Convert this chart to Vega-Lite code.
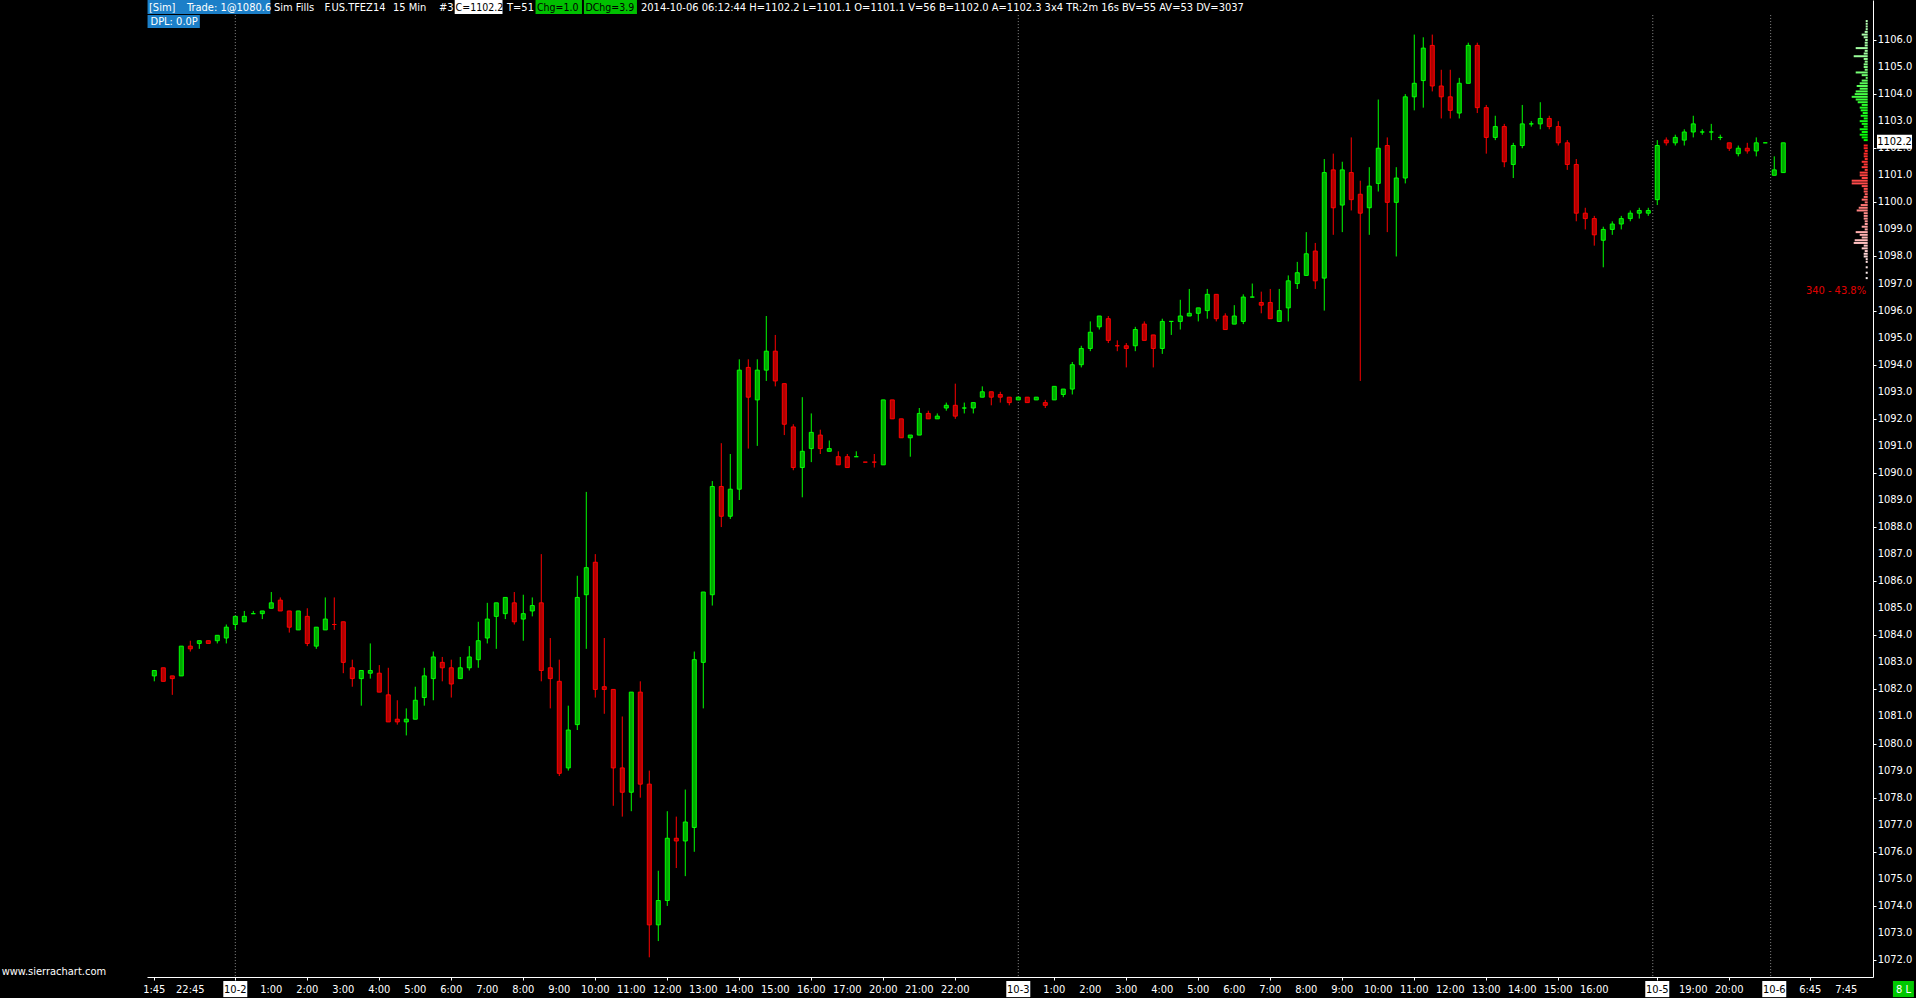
{
"$schema": "https://vega.github.io/schema/vega-lite/v6.json",
"width": 1726, "height": 977,
"autosize": "none",
"padding": {"left": 147, "top": 0, "right": 43, "bottom": 21},
"background": "#000000",
"config": {"view": {"stroke": null}, "font": "DejaVu Sans Condensed", "scale": {"continuousPadding": 0}},
"datasets": {
"bars": [
{"i":0,"o":1082.5,"h":1082.7,"l":1082.3,"c":1082.7},{"i":1,"o":1082.8,"h":1082.8,"l":1082.3,"c":1082.3},{"i":2,"o":1082.5,"h":1082.5,"l":1081.8,"c":1082.4},{"i":3,"o":1082.5,"h":1083.6,"l":1082.5,"c":1083.6},{"i":4,"o":1083.6,"h":1083.8,"l":1083.4,"c":1083.5},{"i":5,"o":1083.7,"h":1083.8,"l":1083.5,"c":1083.8},{"i":6,"o":1083.8,"h":1083.8,"l":1083.7,"c":1083.7},{"i":7,"o":1083.8,"h":1084.0,"l":1083.7,"c":1084.0},{"i":8,"o":1083.9,"h":1084.4,"l":1083.7,"c":1084.3},{"i":9,"o":1084.4,"h":1084.7,"l":1084.2,"c":1084.7},
{"i":10,"o":1084.5,"h":1084.9,"l":1084.5,"c":1084.7},{"i":11,"o":1084.8,"h":1084.9,"l":1084.8,"c":1084.8},{"i":12,"o":1084.8,"h":1084.9,"l":1084.6,"c":1084.9},{"i":13,"o":1085.0,"h":1085.6,"l":1085.0,"c":1085.2},{"i":14,"o":1085.3,"h":1085.4,"l":1084.9,"c":1084.9},{"i":15,"o":1084.9,"h":1084.9,"l":1084.1,"c":1084.3},{"i":16,"o":1084.2,"h":1084.9,"l":1084.2,"c":1084.9},{"i":17,"o":1084.7,"h":1085.0,"l":1083.6,"c":1083.7},{"i":18,"o":1083.6,"h":1084.3,"l":1083.5,"c":1084.3},{"i":19,"o":1084.2,"h":1085.4,"l":1084.2,"c":1084.6},
{"i":20,"o":1084.4,"h":1085.4,"l":1084.2,"c":1084.4,"dn":true},{"i":21,"o":1084.5,"h":1084.5,"l":1082.6,"c":1083.0},{"i":22,"o":1082.8,"h":1083.1,"l":1082.1,"c":1082.4},{"i":23,"o":1082.4,"h":1082.7,"l":1081.4,"c":1082.7},{"i":24,"o":1082.6,"h":1083.7,"l":1082.4,"c":1082.7},{"i":25,"o":1082.6,"h":1082.9,"l":1081.9,"c":1081.9},{"i":26,"o":1081.8,"h":1082.8,"l":1080.8,"c":1080.8},{"i":27,"o":1080.9,"h":1081.6,"l":1080.7,"c":1080.8},{"i":28,"o":1080.8,"h":1081.3,"l":1080.3,"c":1080.9},{"i":29,"o":1080.9,"h":1082.1,"l":1080.9,"c":1081.6},
{"i":30,"o":1081.7,"h":1082.8,"l":1081.4,"c":1082.5},{"i":31,"o":1082.4,"h":1083.4,"l":1081.6,"c":1083.2},{"i":32,"o":1083.0,"h":1083.2,"l":1082.3,"c":1082.8},{"i":33,"o":1082.8,"h":1083.1,"l":1081.7,"c":1082.2},{"i":34,"o":1082.4,"h":1083.2,"l":1082.4,"c":1082.8},{"i":35,"o":1082.8,"h":1083.6,"l":1082.7,"c":1083.2},{"i":36,"o":1083.1,"h":1084.5,"l":1082.8,"c":1083.8},{"i":37,"o":1083.9,"h":1085.2,"l":1083.7,"c":1084.6},{"i":38,"o":1084.7,"h":1085.2,"l":1083.5,"c":1085.2},{"i":39,"o":1084.8,"h":1085.4,"l":1084.6,"c":1085.4},
{"i":40,"o":1085.2,"h":1085.6,"l":1084.4,"c":1084.5},{"i":41,"o":1084.6,"h":1085.5,"l":1083.8,"c":1084.8},{"i":42,"o":1084.9,"h":1085.4,"l":1084.7,"c":1085.1},{"i":43,"o":1085.2,"h":1087.0,"l":1082.3,"c":1082.7},{"i":44,"o":1082.8,"h":1083.9,"l":1081.3,"c":1082.4},{"i":45,"o":1082.3,"h":1083.1,"l":1078.8,"c":1078.9},{"i":46,"o":1079.1,"h":1081.4,"l":1079.0,"c":1080.5},{"i":47,"o":1080.7,"h":1086.2,"l":1080.5,"c":1085.4},{"i":48,"o":1085.5,"h":1089.3,"l":1083.5,"c":1086.5},{"i":49,"o":1086.7,"h":1087.0,"l":1081.7,"c":1082.0},
{"i":50,"o":1082.1,"h":1083.9,"l":1081.1,"c":1082.0},{"i":51,"o":1082.0,"h":1082.0,"l":1077.7,"c":1079.1},{"i":52,"o":1079.1,"h":1081.0,"l":1077.3,"c":1078.2},{"i":53,"o":1078.2,"h":1081.9,"l":1077.5,"c":1081.9},{"i":54,"o":1081.9,"h":1082.3,"l":1078.0,"c":1078.5},{"i":55,"o":1078.5,"h":1079.0,"l":1072.1,"c":1073.3},{"i":56,"o":1073.3,"h":1075.3,"l":1072.7,"c":1074.2},{"i":57,"o":1074.2,"h":1077.5,"l":1074.0,"c":1076.5},{"i":58,"o":1076.5,"h":1077.3,"l":1075.4,"c":1076.4},{"i":59,"o":1076.4,"h":1078.3,"l":1075.1,"c":1077.1},
{"i":60,"o":1076.9,"h":1083.4,"l":1076.0,"c":1083.1},{"i":61,"o":1083.0,"h":1085.6,"l":1081.3,"c":1085.6},{"i":62,"o":1085.5,"h":1089.7,"l":1085.1,"c":1089.5},{"i":63,"o":1089.5,"h":1091.1,"l":1088.0,"c":1088.4},{"i":64,"o":1088.4,"h":1090.7,"l":1088.3,"c":1089.4},{"i":65,"o":1089.4,"h":1094.2,"l":1089.0,"c":1093.8},{"i":66,"o":1093.9,"h":1094.2,"l":1090.9,"c":1092.8},{"i":67,"o":1092.7,"h":1094.2,"l":1091.0,"c":1093.8},{"i":68,"o":1093.8,"h":1095.8,"l":1093.4,"c":1094.5},{"i":69,"o":1094.5,"h":1095.1,"l":1093.2,"c":1093.4},
{"i":70,"o":1093.3,"h":1093.3,"l":1091.4,"c":1091.8},{"i":71,"o":1091.7,"h":1091.8,"l":1090.1,"c":1090.2},{"i":72,"o":1090.2,"h":1092.8,"l":1089.1,"c":1090.8},{"i":73,"o":1090.9,"h":1092.2,"l":1090.4,"c":1091.5},{"i":74,"o":1091.4,"h":1091.6,"l":1090.7,"c":1090.9},{"i":75,"o":1090.8,"h":1091.2,"l":1090.8,"c":1090.9},{"i":76,"o":1090.6,"h":1090.8,"l":1090.3,"c":1090.3},{"i":77,"o":1090.6,"h":1090.7,"l":1090.2,"c":1090.2},{"i":78,"o":1090.6,"h":1090.8,"l":1090.6,"c":1090.6},{"i":79,"o":1090.4,"h":1090.4,"l":1090.4,"c":1090.4,"dn":true},
{"i":80,"o":1090.4,"h":1090.7,"l":1090.2,"c":1090.4,"dn":true},{"i":81,"o":1090.3,"h":1092.7,"l":1090.3,"c":1092.7},{"i":82,"o":1092.7,"h":1092.7,"l":1092.0,"c":1092.0},{"i":83,"o":1092.0,"h":1092.0,"l":1091.3,"c":1091.3},{"i":84,"o":1091.3,"h":1091.4,"l":1090.6,"c":1091.4},{"i":85,"o":1091.4,"h":1092.4,"l":1091.4,"c":1092.2},{"i":86,"o":1092.2,"h":1092.3,"l":1092.0,"c":1092.0},{"i":87,"o":1092.0,"h":1092.2,"l":1092.0,"c":1092.1},{"i":88,"o":1092.4,"h":1092.6,"l":1092.3,"c":1092.5},{"i":89,"o":1092.5,"h":1093.3,"l":1092.0,"c":1092.1},
{"i":90,"o":1092.4,"h":1092.6,"l":1092.2,"c":1092.4},{"i":91,"o":1092.4,"h":1092.6,"l":1092.2,"c":1092.6},{"i":92,"o":1092.8,"h":1093.2,"l":1092.8,"c":1093.0},{"i":93,"o":1093.0,"h":1093.0,"l":1092.5,"c":1092.8},{"i":94,"o":1092.9,"h":1093.0,"l":1092.6,"c":1092.8},{"i":95,"o":1092.8,"h":1092.8,"l":1092.5,"c":1092.6},{"i":96,"o":1092.7,"h":1092.8,"l":1092.7,"c":1092.8},{"i":97,"o":1092.8,"h":1092.8,"l":1092.6,"c":1092.6},{"i":98,"o":1092.7,"h":1092.8,"l":1092.7,"c":1092.8},{"i":99,"o":1092.6,"h":1092.7,"l":1092.4,"c":1092.5},
{"i":100,"o":1092.7,"h":1093.2,"l":1092.7,"c":1093.2},{"i":101,"o":1092.9,"h":1093.1,"l":1092.8,"c":1093.1},{"i":102,"o":1093.1,"h":1094.1,"l":1092.9,"c":1094.0},{"i":103,"o":1094.0,"h":1094.7,"l":1093.9,"c":1094.6},{"i":104,"o":1094.6,"h":1095.6,"l":1094.5,"c":1095.2},{"i":105,"o":1095.4,"h":1095.8,"l":1095.3,"c":1095.8},{"i":106,"o":1095.7,"h":1095.8,"l":1094.8,"c":1094.9},{"i":107,"o":1094.7,"h":1094.9,"l":1094.5,"c":1094.7,"dn":true},{"i":108,"o":1094.7,"h":1094.8,"l":1093.9,"c":1094.6},{"i":109,"o":1094.7,"h":1095.4,"l":1094.5,"c":1095.3},
{"i":110,"o":1095.5,"h":1095.6,"l":1094.9,"c":1094.9},{"i":111,"o":1095.1,"h":1095.1,"l":1093.9,"c":1094.6},{"i":112,"o":1094.6,"h":1095.7,"l":1094.4,"c":1095.6},{"i":113,"o":1095.6,"h":1095.6,"l":1095.1,"c":1095.6},{"i":114,"o":1095.6,"h":1096.4,"l":1095.3,"c":1095.8},{"i":115,"o":1095.8,"h":1096.8,"l":1095.8,"c":1095.9},{"i":116,"o":1095.9,"h":1096.1,"l":1095.6,"c":1096.1},{"i":117,"o":1096.0,"h":1096.8,"l":1095.7,"c":1096.6},{"i":118,"o":1096.6,"h":1096.6,"l":1095.6,"c":1095.7},{"i":119,"o":1095.8,"h":1095.9,"l":1095.3,"c":1095.3},
{"i":120,"o":1095.5,"h":1096.2,"l":1095.5,"c":1095.8},{"i":121,"o":1095.6,"h":1096.6,"l":1095.5,"c":1096.5},{"i":122,"o":1096.5,"h":1097.0,"l":1096.5,"c":1096.5},{"i":123,"o":1096.3,"h":1096.7,"l":1095.9,"c":1096.2},{"i":124,"o":1096.3,"h":1096.8,"l":1095.7,"c":1095.7},{"i":125,"o":1095.6,"h":1096.8,"l":1095.6,"c":1096.0},{"i":126,"o":1096.1,"h":1097.3,"l":1095.6,"c":1097.1},{"i":127,"o":1097.0,"h":1097.8,"l":1096.8,"c":1097.4},{"i":128,"o":1097.3,"h":1098.9,"l":1097.3,"c":1098.1},{"i":129,"o":1098.2,"h":1098.5,"l":1096.8,"c":1097.1},
{"i":130,"o":1097.2,"h":1101.6,"l":1096.0,"c":1101.1},{"i":131,"o":1101.2,"h":1101.8,"l":1098.8,"c":1099.8},{"i":132,"o":1099.9,"h":1101.5,"l":1098.9,"c":1101.2},{"i":133,"o":1101.1,"h":1102.4,"l":1099.7,"c":1100.1},{"i":134,"o":1100.3,"h":1100.8,"l":1093.4,"c":1099.6},{"i":135,"o":1099.8,"h":1101.3,"l":1098.8,"c":1100.6},{"i":136,"o":1100.7,"h":1103.8,"l":1100.4,"c":1102.0},{"i":137,"o":1102.1,"h":1102.4,"l":1098.9,"c":1100.0},{"i":138,"o":1100.0,"h":1101.3,"l":1098.0,"c":1100.9},{"i":139,"o":1100.9,"h":1104.0,"l":1100.7,"c":1103.9},
{"i":140,"o":1103.9,"h":1106.2,"l":1103.4,"c":1104.4},{"i":141,"o":1104.5,"h":1106.1,"l":1103.5,"c":1105.7},{"i":142,"o":1105.8,"h":1106.2,"l":1104.1,"c":1104.3},{"i":143,"o":1104.3,"h":1104.9,"l":1103.1,"c":1103.9},{"i":144,"o":1103.9,"h":1104.9,"l":1103.1,"c":1103.4},{"i":145,"o":1103.3,"h":1104.6,"l":1103.1,"c":1104.4},{"i":146,"o":1104.4,"h":1105.9,"l":1104.4,"c":1105.8},{"i":147,"o":1105.8,"h":1105.9,"l":1103.3,"c":1103.5},{"i":148,"o":1103.5,"h":1103.6,"l":1101.8,"c":1102.4},{"i":149,"o":1102.4,"h":1103.2,"l":1102.3,"c":1102.8},
{"i":150,"o":1102.8,"h":1102.9,"l":1101.3,"c":1101.5},{"i":151,"o":1101.4,"h":1102.2,"l":1100.9,"c":1102.1},{"i":152,"o":1102.1,"h":1103.6,"l":1102.0,"c":1102.9},{"i":153,"o":1102.9,"h":1103.0,"l":1102.8,"c":1102.9},{"i":154,"o":1102.9,"h":1103.7,"l":1102.7,"c":1103.1},{"i":155,"o":1103.1,"h":1103.2,"l":1102.7,"c":1102.8},{"i":156,"o":1102.8,"h":1103.0,"l":1102.1,"c":1102.2},{"i":157,"o":1102.2,"h":1102.3,"l":1101.2,"c":1101.4},{"i":158,"o":1101.4,"h":1101.6,"l":1099.3,"c":1099.6},{"i":159,"o":1099.6,"h":1099.8,"l":1099.0,"c":1099.4},
{"i":160,"o":1099.4,"h":1099.5,"l":1098.4,"c":1098.8},{"i":161,"o":1098.6,"h":1099.1,"l":1097.6,"c":1099.0},{"i":162,"o":1099.0,"h":1099.3,"l":1098.8,"c":1099.2},{"i":163,"o":1099.2,"h":1099.5,"l":1099.0,"c":1099.4},{"i":164,"o":1099.4,"h":1099.7,"l":1099.3,"c":1099.6},{"i":165,"o":1099.6,"h":1099.8,"l":1099.4,"c":1099.7},{"i":166,"o":1099.6,"h":1099.8,"l":1099.5,"c":1099.7},{"i":167,"o":1100.1,"h":1102.3,"l":1099.9,"c":1102.1},{"i":168,"o":1102.3,"h":1102.4,"l":1102.1,"c":1102.2},{"i":169,"o":1102.2,"h":1102.5,"l":1102.1,"c":1102.4},
{"i":170,"o":1102.3,"h":1102.7,"l":1102.1,"c":1102.6},{"i":171,"o":1102.6,"h":1103.2,"l":1102.4,"c":1102.9},{"i":172,"o":1102.6,"h":1102.7,"l":1102.5,"c":1102.6},{"i":173,"o":1102.6,"h":1102.9,"l":1102.3,"c":1102.6},{"i":174,"o":1102.4,"h":1102.5,"l":1102.3,"c":1102.4},{"i":175,"o":1102.2,"h":1102.2,"l":1101.9,"c":1102.0},{"i":176,"o":1101.8,"h":1102.1,"l":1101.7,"c":1102.0},{"i":177,"o":1102.0,"h":1102.2,"l":1101.8,"c":1101.9},{"i":178,"o":1101.9,"h":1102.4,"l":1101.7,"c":1102.2},{"i":179,"o":1102.2,"h":1102.2,"l":1102.2,"c":1102.2},
{"i":180,"o":1101.0,"h":1101.7,"l":1101.0,"c":1101.2},{"i":181,"o":1101.1,"h":1102.2,"l":1101.1,"c":1102.2}
],
"profile": [
{"p":1106.7,"v":2},{"p":1106.6,"v":2},{"p":1106.5,"v":2},{"p":1106.4,"v":2},{"p":1106.3,"v":3},{"p":1106.2,"v":6},{"p":1106.1,"v":4},{"p":1106.0,"v":2.5},{"p":1105.9,"v":3},{"p":1105.8,"v":3},{"p":1105.7,"v":12},{"p":1105.6,"v":3},{"p":1105.5,"v":4},{"p":1105.4,"v":14},{"p":1105.3,"v":4},{"p":1105.2,"v":3},{"p":1105.1,"v":4},{"p":1105.0,"v":4},{"p":1104.9,"v":3},{"p":1104.8,"v":12},{"p":1104.7,"v":6},{"p":1104.6,"v":2},{"p":1104.5,"v":6},{"p":1104.4,"v":8},{"p":1104.3,"v":11},{"p":1104.2,"v":8},{"p":1104.1,"v":12},{"p":1104.0,"v":13},{"p":1103.9,"v":16},{"p":1103.8,"v":12},{"p":1103.7,"v":10},{"p":1103.6,"v":6},{"p":1103.5,"v":8},{"p":1103.4,"v":7},{"p":1103.3,"v":5},{"p":1103.2,"v":7},{"p":1103.1,"v":4},{"p":1103.0,"v":8},{"p":1102.9,"v":6},{"p":1102.8,"v":4},{"p":1102.7,"v":8},{"p":1102.6,"v":6},{"p":1102.5,"v":8},{"p":1102.4,"v":6},{"p":1102.3,"v":4},
{"p":1102.1,"v":4},{"p":1102.0,"v":4},{"p":1101.9,"v":3},{"p":1101.8,"v":4},{"p":1101.7,"v":4},{"p":1101.6,"v":3},{"p":1101.5,"v":6},{"p":1101.4,"v":4},{"p":1101.3,"v":6},{"p":1101.2,"v":3},{"p":1101.1,"v":8},{"p":1101.0,"v":8},{"p":1100.9,"v":6},{"p":1100.8,"v":16},{"p":1100.7,"v":16},{"p":1100.6,"v":6},{"p":1100.5,"v":4},{"p":1100.4,"v":4},{"p":1100.3,"v":3},{"p":1100.2,"v":4},{"p":1100.1,"v":6},{"p":1100.0,"v":3},{"p":1099.9,"v":7},{"p":1099.8,"v":9},{"p":1099.7,"v":11},{"p":1099.6,"v":4},{"p":1099.5,"v":4},{"p":1099.4,"v":4},{"p":1099.3,"v":3},{"p":1099.2,"v":3},{"p":1099.1,"v":6},{"p":1099.0,"v":3},{"p":1098.9,"v":12},{"p":1098.8,"v":8},{"p":1098.7,"v":6},{"p":1098.6,"v":13},{"p":1098.5,"v":14},{"p":1098.4,"v":4},{"p":1098.3,"v":6},{"p":1098.2,"v":3},{"p":1098.1,"v":4},{"p":1098.0,"v":4},{"p":1097.9,"v":2},{"p":1097.8,"v":2},{"p":1097.6,"v":2},{"p":1097.4,"v":2},{"p":1097.2,"v":2}
],
"ylabels": [{"v":1072},{"v":1073},{"v":1074},{"v":1075},{"v":1076},{"v":1077},{"v":1078},{"v":1079},{"v":1080},{"v":1081},{"v":1082},{"v":1083},{"v":1084},{"v":1085},{"v":1086},{"v":1087},{"v":1088},{"v":1089},{"v":1090},{"v":1091},{"v":1092},{"v":1093},{"v":1094},{"v":1095},{"v":1096},{"v":1097},{"v":1098},{"v":1099},{"v":1100},{"v":1101},{"v":1102},{"v":1103},{"v":1104},{"v":1105},{"v":1106}],
"seps": [{"i":9},{"i":96},{"i":166.5},{"i":179.6}],
"xlabels": [{"i":0,"t":"1:45"},{"i":4,"t":"22:45"},{"i":13,"t":"1:00"},{"i":17,"t":"2:00"},{"i":21,"t":"3:00"},{"i":25,"t":"4:00"},{"i":29,"t":"5:00"},{"i":33,"t":"6:00"},{"i":37,"t":"7:00"},{"i":41,"t":"8:00"},{"i":45,"t":"9:00"},{"i":49,"t":"10:00"},{"i":53,"t":"11:00"},{"i":57,"t":"12:00"},{"i":61,"t":"13:00"},{"i":65,"t":"14:00"},{"i":69,"t":"15:00"},{"i":73,"t":"16:00"},{"i":77,"t":"17:00"},{"i":81,"t":"20:00"},{"i":85,"t":"21:00"},{"i":89,"t":"22:00"},{"i":100,"t":"1:00"},{"i":104,"t":"2:00"},{"i":108,"t":"3:00"},{"i":112,"t":"4:00"},{"i":116,"t":"5:00"},{"i":120,"t":"6:00"},{"i":124,"t":"7:00"},{"i":128,"t":"8:00"},{"i":132,"t":"9:00"},{"i":136,"t":"10:00"},{"i":140,"t":"11:00"},{"i":144,"t":"12:00"},{"i":148,"t":"13:00"},{"i":152,"t":"14:00"},{"i":156,"t":"15:00"},{"i":160,"t":"16:00"},{"i":171,"t":"19:00"},{"i":175,"t":"20:00"},{"i":184,"t":"6:45"},{"i":188,"t":"7:45"}],
"dates": [{"i":9,"t":"10-2"},{"i":96,"t":"10-3"},{"i":167,"t":"10-5"},{"i":180,"t":"10-6"}],
"hdrlight": [{"t":"[Sim]","x":-0.59},{"t":"Trade: 1@1080.6","x":3.63},{"t":"Sim Fills","x":13.3},{"t":"F.US.TFEZ14","x":18.9},{"t":"15 Min","x":26.52},{"t":"#3","x":31.63},{"t":"T=51","x":39.19},{"t":"2014-10-06 06:12:44 H=1102.2 L=1101.1 O=1101.1 V=56 B=1102.0 A=1102.3 3x4 TR:2m 16s BV=55 AV=53 DV=3037","x":54.08}],
"hdrdark": [{"t":"C=1102.2","x":33.48},{"t":"Chg=1.0","x":42.52},{"t":"DChg=3.9","x":47.91}],
"greenbox": [{"x0":42.36,"x1":47.52},{"x0":47.74,"x1":53.63}]
},
"layer": [
{
"layer": [
{"data": {"name": "seps"}, "mark": {"type": "rule", "color": "#8a8a8a", "strokeDash": [1, 2], "strokeWidth": 1},
 "encoding": {"x": {"field": "i", "type": "quantitative", "scale": {"domain": [-0.811, 190.97], "nice": false, "zero": false, "padding": 0},
   "axis": {"values": [0,4,9,13,17,21,25,29,33,37,41,45,49,53,57,61,65,69,73,77,81,85,89,96,100,104,108,112,116,120,124,128,132,136,140,144,148,152,156,160,167,171,175,180,184,188], "labels": false, "title": null, "grid": false, "domainColor": "#ffffff", "tickColor": "#ffffff", "tickSize": 3}},
  "y": {"datum": 1106.92, "type": "quantitative", "scale": {"domain": [1071.373, 1107.478], "nice": false, "zero": false, "padding": 0},
   "axis": {"orient": "right", "values": [1072,1073,1074,1075,1076,1077,1078,1079,1080,1081,1082,1083,1084,1085,1086,1087,1088,1089,1090,1091,1092,1093,1094,1095,1096,1097,1098,1099,1100,1101,1102,1103,1104,1105,1106], "labels": false, "title": null, "grid": false, "domainColor": "#ffffff", "tickColor": "#ffffff", "tickSize": 3}},
  "y2": {"datum": 1071.373}}},
{"data": {"name": "bars"}, "mark": {"type": "rule", "strokeWidth": 1},
 "encoding": {"x": {"field": "i", "type": "quantitative"}, "y": {"field": "l", "type": "quantitative"}, "y2": {"field": "h"},
  "color": {"condition": {"test": "datum.c > datum.o || (datum.c == datum.o && !datum.dn)", "value": "#00ff00"}, "value": "#ff0000"}}},
{"data": {"name": "bars"}, "mark": {"type": "bar", "size": 4, "strokeWidth": 1},
 "encoding": {"x": {"field": "i", "type": "quantitative"}, "y": {"field": "o", "type": "quantitative"}, "y2": {"field": "c"},
  "fill": {"condition": {"test": "datum.c > datum.o || (datum.c == datum.o && !datum.dn)", "value": "#00a800"}, "value": "#b00000"},
  "stroke": {"condition": {"test": "datum.c > datum.o || (datum.c == datum.o && !datum.dn)", "value": "#00ff00"}, "value": "#ff0000"}}},
{"mark": {"type": "rule", "color": "#ffffff", "strokeWidth": 1},
 "encoding": {"x": {"datum": -0.811}, "y": {"datum": 1107.478}, "y2": {"datum": 1071.373}}},
{"data": {"name": "ylabels"}, "mark": {"type": "text", "align": "left", "baseline": "middle", "fontSize": 11, "font": "DejaVu Sans Condensed", "fill": "#ffffff"},
 "encoding": {"x": {"datum": 191.49}, "y": {"field": "v", "type": "quantitative"}, "text": {"field": "v", "type": "quantitative", "format": ".1f"}}},
{"data": {"values": [{"x0": -0.75, "x1": 12.9}]}, "mark": {"type": "rect", "fill": "#1c7fc8"},
 "encoding": {"x": {"field": "x0", "type": "quantitative"}, "x2": {"field": "x1"}, "y": {"datum": 1107.478}, "y2": {"datum": 1106.96}}},
{"data": {"values": [{"x0": 33.38, "x1": 38.69}]}, "mark": {"type": "rect", "fill": "#ffffff"},
 "encoding": {"x": {"field": "x0", "type": "quantitative"}, "x2": {"field": "x1"}, "y": {"datum": 1107.478}, "y2": {"datum": 1106.96}}},
{"data": {"name": "greenbox"}, "mark": {"type": "rect", "fill": "#00c000"},
 "encoding": {"x": {"field": "x0", "type": "quantitative"}, "x2": {"field": "x1"}, "y": {"datum": 1107.478}, "y2": {"datum": 1106.96}}},
{"data": {"values": [{"x0": -0.75, "x1": 5.06}]}, "mark": {"type": "rect", "fill": "#1c7fc8"},
 "encoding": {"x": {"field": "x0", "type": "quantitative"}, "x2": {"field": "x1"}, "y": {"datum": 1106.92}, "y2": {"datum": 1106.44}}},
{"data": {"name": "hdrlight"}, "mark": {"type": "text", "align": "left", "baseline": "middle", "fontSize": 11, "font": "DejaVu Sans Condensed", "fill": "#ffffff"},
 "encoding": {"x": {"field": "x", "type": "quantitative"}, "y": {"datum": 1107.18}, "text": {"field": "t"}}},
{"data": {"name": "hdrdark"}, "mark": {"type": "text", "align": "left", "baseline": "middle", "fontSize": 10.5, "font": "DejaVu Sans Condensed", "fill": "#000000"},
 "encoding": {"x": {"field": "x", "type": "quantitative"}, "y": {"datum": 1107.18}, "text": {"field": "t"}}},
{"data": {"values": [{"t": "DPL: 0.0P", "x": -0.42}]}, "mark": {"type": "text", "align": "left", "baseline": "middle", "fontSize": 11, "font": "DejaVu Sans Condensed", "fill": "#ffffff"},
 "encoding": {"x": {"field": "x", "type": "quantitative"}, "y": {"datum": 1106.68}, "text": {"field": "t"}}},
{"data": {"name": "xlabels"}, "mark": {"type": "text", "align": "center", "baseline": "middle", "fontSize": 11, "font": "DejaVu Sans Condensed", "fill": "#ffffff"},
 "encoding": {"x": {"field": "i", "type": "quantitative"}, "y": {"datum": 1070.89}, "text": {"field": "t"}}},
{"data": {"name": "dates"}, "mark": {"type": "bar", "size": 24, "fill": "#ffffff"},
 "encoding": {"x": {"field": "i", "type": "quantitative"}, "y": {"datum": 1071.225}, "y2": {"datum": 1070.63}}},
{"data": {"name": "dates"}, "mark": {"type": "text", "align": "center", "baseline": "middle", "fontSize": 11, "font": "DejaVu Sans Condensed", "fill": "#000000"},
 "encoding": {"x": {"field": "i", "type": "quantitative"}, "y": {"datum": 1070.89}, "text": {"field": "t"}}},
{"data": {"values": [{"t": "1102.2"}]}, "mark": {"type": "bar", "size": 35, "fill": "#ffffff"},
 "encoding": {"x": {"datum": 193.36}, "y": {"datum": 1102.5}, "y2": {"datum": 1101.98}}},
{"data": {"values": [{"t": "1102.2"}]}, "mark": {"type": "text", "align": "center", "baseline": "middle", "fontSize": 11, "font": "DejaVu Sans Condensed", "fill": "#000000"},
 "encoding": {"x": {"datum": 193.36}, "y": {"datum": 1102.24}, "text": {"field": "t"}}},
{"data": {"values": [{"t": "340 - 43.8%"}]}, "mark": {"type": "text", "align": "right", "baseline": "middle", "fontSize": 11, "font": "DejaVu Sans Condensed", "fill": "#e00000"},
 "encoding": {"x": {"datum": 190.2}, "y": {"datum": 1096.74}, "text": {"field": "t"}}},
{"data": {"values": [{"t": "www.sierrachart.com"}]}, "mark": {"type": "text", "align": "left", "baseline": "middle", "fontSize": 11, "font": "DejaVu Sans Condensed", "fill": "#ffffff"},
 "encoding": {"x": {"datum": -16.96}, "y": {"datum": 1071.54}, "text": {"field": "t"}}},
{"data": {"values": [{"t": "8 L"}]}, "mark": {"type": "bar", "size": 21, "fill": "#00c800"},
 "encoding": {"x": {"datum": 194.35}, "y": {"datum": 1071.225}, "y2": {"datum": 1070.63}}},
{"data": {"values": [{"t": "8 L"}]}, "mark": {"type": "text", "align": "center", "baseline": "middle", "fontSize": 11, "font": "DejaVu Sans Condensed", "fill": "#ffffff"},
 "encoding": {"x": {"datum": 194.35}, "y": {"datum": 1070.89}, "text": {"field": "t"}}}
]
},
{"data": {"name": "profile"}, "mark": {"type": "bar", "orient": "horizontal", "size": 2},
 "encoding": {"x": {"field": "v", "type": "quantitative", "scale": {"domain": [-5.3, 1720.7], "reverse": true, "nice": false, "zero": false, "padding": 0}, "axis": null},
  "x2": {"datum": 0},
  "y": {"field": "p", "type": "quantitative", "scale": {"domain": [1071.373, 1107.478], "nice": false, "zero": false, "padding": 0},
   "axis": {"orient": "right", "values": [1072,1073,1074,1075,1076,1077,1078,1079,1080,1081,1082,1083,1084,1085,1086,1087,1088,1089,1090,1091,1092,1093,1094,1095,1096,1097,1098,1099,1100,1101,1102,1103,1104,1105,1106], "labels": false, "title": null, "grid": false, "domainColor": "#ffffff", "tickColor": "#ffffff", "tickSize": 3}},
  "fill": {"field": "p", "type": "quantitative", "scale": {"domain": [1097.2, 1098.0, 1099.0, 1100.5, 1102.1, 1102.3, 1103.5, 1104.5, 1105.5, 1106.7], "range": ["#ffffff", "#ffd8d8", "#ffa8a8", "#ff5050", "#ff2020", "#00ff00", "#20ff20", "#60ff60", "#a0ffa0", "#ffffff"]}, "legend": null}}}
],
"resolve": {"scale": {"x": "independent", "fill": "independent"}}
}
